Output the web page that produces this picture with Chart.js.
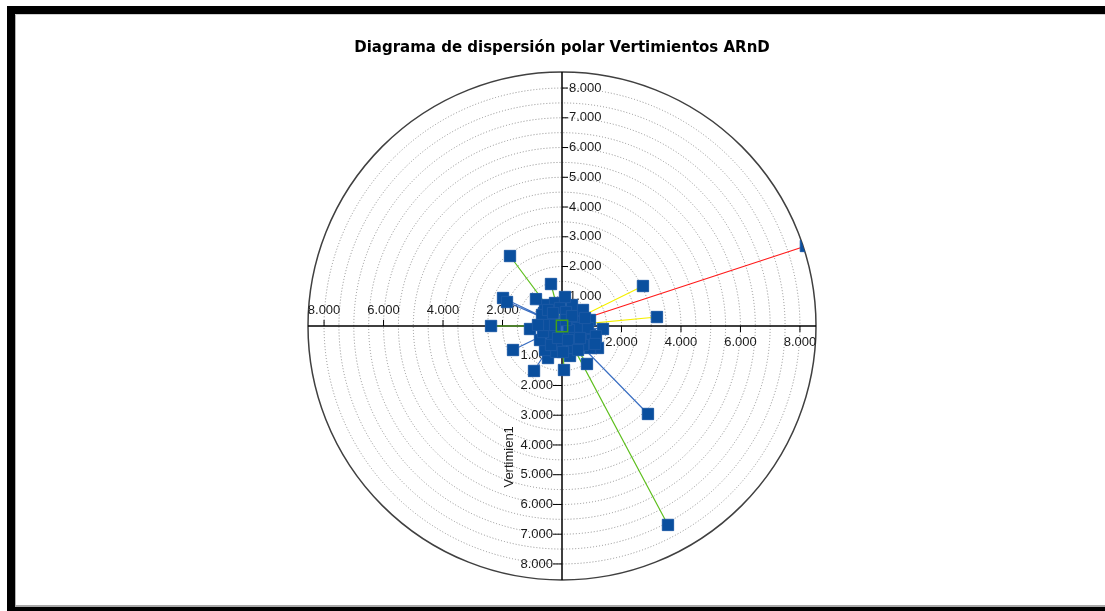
<!DOCTYPE html>
<html>
<head>
<meta charset="utf-8">
<script src="https://cdn.jsdelivr.net/npm/chart.js@4"></script>
<style>
  html, body { margin: 0; padding: 0; background: #fff; }
  #marco { position: relative; width: 1105px; height: 611px; overflow: hidden; background: #fff; }
  #marco canvas { position: absolute; left: 0; top: 0; }
  .borde { position: absolute; }
</style>
</head>
<body>
<div id="marco">
  <canvas id="graficoPolar" width="1105" height="611"></canvas>
  <div class="borde" style="left:7px;top:6px;width:1110px;height:8px;background:#000"></div>
  <div class="borde" style="left:7px;top:6px;width:8px;height:610px;background:#000"></div>
  <div class="borde" style="left:7px;top:607px;width:1110px;height:6px;background:#000"></div>
  <div class="borde" style="left:15px;top:14px;width:1px;height:591px;background:#b4b4b4"></div>
  <div class="borde" style="left:15px;top:14px;width:1100px;height:1px;background:#d0d0d0"></div>
  <div class="borde" style="left:15px;top:605px;width:1100px;height:2px;background:#a8a8a8"></div>
</div>
<script>
// Vertimientos por grupo (coordenadas x / y en unidades del eje)
const rojoX = [8200, 100, -875, -807, 538];
const rojoY = [2690, 975, 905, 34, -807];

const amarilloX = [2722, 3193, 605, 202];
const amarilloY = [1344, 302, -403, -471];

const verdeX = [-370, -1748, -2386, 3563, 67, 840, 437, -471, -403, -336];
const verdeY = [1412, 2353, 0, -6689, -1479, -1277, 471, -1076, 269, -303];

const azulX = [2890, -1983, -1849, -1647, -941, -1076, 1378, 1210, -605, 605, 941,
               -571, -235, 336, 706, 941, 773, 1008, 269, -202, -571, -739, -672, 437, -67, 941,
               -470, -67, 134, 538, 874, 1142, 706, 403, 34, -370, -638, -504, -235, 235,
               403, 773, 134, -302, 336, -134, 1109];
const azulY = [-2958, 941, 807, -807, -1512, -101, -101, -739, 437, 302, -302,
               706, 773, 706, 538, 202, -134, -471, -1008, -874, -807, -471, 370, 134, -639, -739,
               538, 605, 470, -67, -67, -336, -638, -739, -874, -638, -202, 34, 34, -134,
               -403, 269, 202, 437, 336, -403, -605];

// Escala radial
const radioMax = 8540;
const anillos = [500, 1000, 1500, 2000, 2500, 3000, 3500, 4000, 4500, 5000, 5500, 6000, 6500, 7000, 7500, 8000];
const ticksHoriz = [2000, 4000, 6000, 8000];
const etiquetasHoriz = ['2.000', '4.000', '6.000', '8.000'];
const ticksVert = [1000, 2000, 3000, 4000, 5000, 6000, 7000, 8000];
const etiquetasVert = ['1.000', '2.000', '3.000', '4.000', '5.000', '6.000', '7.000', '8.000'];

const fuente = '"Liberation Sans", Arial, sans-serif';

function radios(xs, ys) {
  // linea desde el origen hasta cada punto y de vuelta
  const datos = [];
  xs.forEach((x, i) => {
    datos.push({ x: 0, y: 0 });
    datos.push({ x: x, y: ys[i] });
  });
  return datos;
}

function puntos(xs, ys) {
  return xs.map((x, i) => ({ x: x, y: ys[i] }));
}

const todosPuntos = [].concat(
  puntos(verdeX, verdeY),
  puntos(azulX, azulY),
  puntos(amarilloX, amarilloY),
  puntos(rojoX, rojoY)
);

function lineaRadio(color, xs, ys) {
  return {
    data: radios(xs, ys),
    showLine: true,
    borderColor: color,
    borderWidth: 1.2,
    pointRadius: 0,
    order: 2
  };
}

const fondoPolar = {
  id: 'fondoPolar',
  beforeDatasetsDraw(chart) {
    const ctx = chart.ctx;
    const sx = chart.scales.x, sy = chart.scales.y;
    const cx = sx.getPixelForValue(0), cy = sy.getPixelForValue(0);
    const r = v => sx.getPixelForValue(v) - cx;
    const R = r(radioMax);

    ctx.save();
    // anillos punteados
    ctx.strokeStyle = '#8c8c8c';
    ctx.lineWidth = 1;
    ctx.setLineDash([1, 2]);
    anillos.forEach(v => {
      ctx.beginPath();
      ctx.arc(cx, cy, r(v), 0, Math.PI * 2);
      ctx.stroke();
    });
    ctx.setLineDash([]);

    // circulo exterior
    ctx.strokeStyle = '#404040';
    ctx.lineWidth = 1.5;
    ctx.beginPath();
    ctx.arc(cx, cy, R, 0, Math.PI * 2);
    ctx.stroke();

    // ejes
    ctx.strokeStyle = '#000';
    ctx.lineWidth = 1.5;
    ctx.beginPath();
    ctx.moveTo(cx - R, cy); ctx.lineTo(cx + R, cy);
    ctx.moveTo(cx, cy - R); ctx.lineTo(cx, cy + R);
    ctx.stroke();

    ctx.lineWidth = 1;
    ctx.font = '13px ' + fuente;
    ctx.fillStyle = '#1a1a1a';

    // eje horizontal: derecha etiquetas abajo, izquierda arriba
    ctx.textAlign = 'center';
    ctx.textBaseline = 'middle';
    ticksHoriz.forEach((v, i) => {
      const px = sx.getPixelForValue(v);
      const nx = sx.getPixelForValue(-v);
      ctx.beginPath();
      ctx.moveTo(px, cy); ctx.lineTo(px, cy + 6);
      ctx.moveTo(nx, cy); ctx.lineTo(nx, cy - 6);
      ctx.stroke();
      ctx.fillText(etiquetasHoriz[i], px, cy + 16);
      ctx.fillText(etiquetasHoriz[i], nx, cy - 16);
    });

    // eje vertical: arriba etiquetas a la derecha, abajo a la izquierda
    ticksVert.forEach((v, i) => {
      const py = sy.getPixelForValue(v);
      const ny = sy.getPixelForValue(-v);
      ctx.beginPath();
      ctx.moveTo(cx, py); ctx.lineTo(cx + 6, py);
      ctx.moveTo(cx, ny); ctx.lineTo(cx - 9, ny);
      ctx.stroke();
      ctx.textAlign = 'left';
      ctx.fillText(etiquetasVert[i], cx + 7, py);
      ctx.textAlign = 'right';
      ctx.fillText(etiquetasVert[i], cx - 9, ny);
    });

    // titulo del eje
    ctx.save();
    ctx.translate(cx - 53, sy.getPixelForValue(-4400));
    ctx.rotate(-Math.PI / 2);
    ctx.textAlign = 'center';
    ctx.fillText('Vertimien1', 0, 0);
    ctx.restore();
    ctx.restore();

    // recorte circular para las series
    ctx.save();
    ctx.beginPath();
    ctx.arc(cx, cy, R, 0, Math.PI * 2);
    ctx.clip();
  },
  afterDatasetsDraw(chart) {
    chart.ctx.restore();
  }
};

new Chart(document.getElementById('graficoPolar'), {
  type: 'scatter',
  data: {
    datasets: [
      {
        data: [{ x: 0, y: 0 }],
        pointStyle: 'rect',
        pointRadius: 8,
        backgroundColor: 'rgba(0,0,0,0)',
        borderColor: '#3f9f1c',
        borderWidth: 1.5,
        order: 0
      },
      {
        data: todosPuntos,
        pointStyle: 'rect',
        pointRadius: 8,
        backgroundColor: '#0a4f9e',
        borderColor: '#1c59a5',
        borderWidth: 1,
        order: 1
      },
      lineaRadio('#3b6fc2', azulX, azulY),
      lineaRadio('#5fbf1f', verdeX, verdeY),
      lineaRadio('#f5f000', amarilloX, amarilloY),
      lineaRadio('#ff1a1a', rojoX, rojoY)
    ]
  },
  options: {
    responsive: false,
    animation: false,
    devicePixelRatio: 1,
    layout: { padding: { left: 308, right: 289, top: 0, bottom: 31 } },
    scales: {
      x: { type: 'linear', min: -radioMax, max: radioMax, display: false },
      y: { type: 'linear', min: -radioMax, max: radioMax, display: false }
    },
    plugins: {
      legend: { display: false },
      tooltip: { enabled: false },
      title: {
        display: true,
        text: 'Diagrama de dispersión polar Vertimientos ARnD',
        color: '#000',
        font: { family: '"DejaVu Sans", Verdana, sans-serif', size: 15, weight: 'bold' },
        padding: { top: 39, bottom: 15 }
      }
    }
  },
  plugins: [fondoPolar]
});
</script>
</body>
</html>
